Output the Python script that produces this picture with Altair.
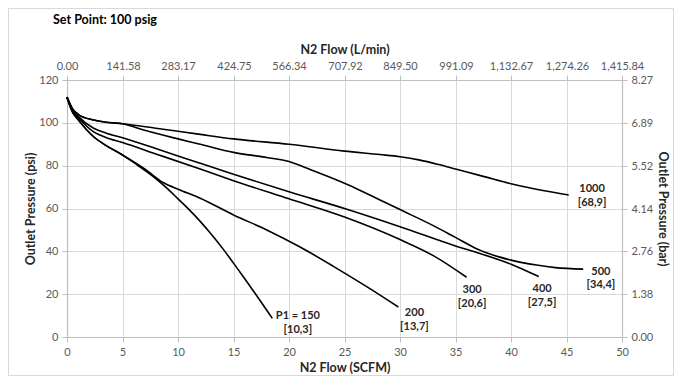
import altair as alt
import pandas as pd

# ---- curve data (N2 flow in SCFM, outlet pressure in psi) ----
series_names = ["P1 = 150", "200", "300", "400", "500", "1000"]

flow_150 = [0, 0.5, 1, 2.4, 3.5, 5, 6, 8, 9, 10, 11, 12, 13, 14, 15, 16, 17, 18.5]
psi_150 = [112, 105, 101.5, 93.5, 89.5, 85, 81.5, 74, 69.5, 64.5, 59.5, 54, 48, 41.5,
           34.5, 27.3, 20, 8.7]

flow_200 = [0, 0.5, 1, 2.4, 3.5, 5, 7, 8.7, 10, 12, 15, 18, 21, 24, 27, 29.85]
psi_200 = [112, 105, 101.5, 93.5, 89.5, 85, 78.5, 72, 69, 64.8, 57, 50, 42, 33, 23.5, 14]

flow_300 = [0, 0.5, 1, 2.4, 3.5, 5, 8, 12, 15, 20, 25, 30, 33, 36]
psi_300 = [112, 105.5, 102.5, 95.8, 93.2, 90.8, 85.5, 78.4, 73, 64.5, 56, 45.5, 38, 27.9]

flow_400 = [0, 0.5, 1, 2.4, 3.5, 5, 8, 12, 15, 20, 25, 30, 35, 37.2, 40, 42.5]
psi_400 = [112, 106, 103, 97.5, 95.3, 93, 88, 81.1, 76, 67.8, 60, 51.5, 42.5, 39, 34, 28.2]

flow_500 = [0, 0.5, 1, 2.4, 3.5, 5, 7, 10, 12, 15, 18, 20, 22, 24.3, 26, 28.2, 30,
            33, 35, 37, 39, 40, 42.3, 44, 46.5]
psi_500 = [112, 106.5, 104, 101.3, 100.3, 99.6, 96.5, 92.5, 90, 86.2, 83.8, 81.9, 78,
           73.3, 69.5, 64, 59.5, 52, 46.5, 41, 37.3, 35.9, 33.6, 32.4, 31.7]

flow_1000 = [0, 0.5, 1, 2.4, 3.5, 5, 8, 12, 15, 20, 25, 28.2, 30, 31.8, 33.5, 35.1,
             37.5, 40.2, 43, 45.2]
psi_1000 = [112, 106.5, 104, 101.3, 100.3, 99.6, 97.5, 94.6, 92.5, 90, 86.8, 85.2,
            84.2, 82.6, 80.5, 78.3, 75, 71.3, 68.3, 66.3]

# ---- curve labels ----
label_text = ["P1 = 150", "[10,3]", "200", "[13,7]", "300", "[20,6]",
              "400", "[27,5]", "500", "[34,4]", "1000", "[68,9]"]
label_flow = [20.8, 20.8, 31.3, 31.3, 36.5, 36.5, 42.8, 42.8, 48.1, 48.1, 47.3, 47.3]
label_psi = [9.8, 3.3, 11.0, 4.5, 21.9, 15.3, 22.4, 16.0, 30.5, 24.3, 68.9, 62.4]

# ---- axis ticks ----
x_ticks = [0, 5, 10, 15, 20, 25, 30, 35, 40, 45, 50]
y_ticks = [0, 20, 40, 60, 80, 100, 120]
SCFM_TO_LPM = 28.3168
PSI_TO_BAR = 0.0689476

rows = []
for name, xs, ys in zip(series_names,
                        [flow_150, flow_200, flow_300, flow_400, flow_500, flow_1000],
                        [psi_150, psi_200, psi_300, psi_400, psi_500, psi_1000]):
    for i, (x, y) in enumerate(zip(xs, ys)):
        rows.append({"series": name, "flow": x, "psi": y, "order": i})
df = pd.DataFrame(rows)
labels = pd.DataFrame({"text": label_text, "flow": label_flow, "psi": label_psi})

W, H = 555, 257
PAD = {"left": 59, "top": 72, "right": 52, "bottom": 39}
GRID = "#d9d9d9"

xscale = alt.Scale(domain=[0, 50], nice=False, zero=False)
yscale = alt.Scale(domain=[0, 120], nice=False)
# rounded copies so that the gridlines land on whole pixels and stay crisp
xscale_r = alt.Scale(domain=[0, 50], nice=False, zero=False, round=True)
yscale_r = alt.Scale(domain=[0, 120], nice=False, round=True)

frame = alt.Chart(pd.DataFrame({"a": [0]})).mark_rect(
    filled=False, stroke="#d9d9d9", strokeWidth=1
).encode(
    x=alt.value(-PAD["left"] + 0.5),
    x2=alt.value(W + PAD["right"] - 0.5),
    y=alt.value(-PAD["top"] + 0.5),
    y2=alt.value(H + PAD["bottom"] - 0.5),
)

# secondary axes (L/min on top, bar on right) also carry the gridlines
secondary = alt.Chart(df).mark_point(opacity=0).encode(
    x=alt.X("flow:Q", scale=xscale_r,
            axis=alt.Axis(orient="top", values=x_ticks, title="N2 Flow (L/min)",
                          grid=True, gridColor=GRID, gridWidth=1, gridOpacity=1,
                          labelFlush=False, labelOverlap=False,
                          labelExpr=f"format(datum.value * {SCFM_TO_LPM}, ',.2f')",
                          titlePadding=4)),
    y=alt.Y("psi:Q", scale=yscale_r,
            axis=alt.Axis(orient="right", values=y_ticks, title="Outlet Pressure (bar)",
                          grid=True, gridColor=GRID, gridWidth=1, gridOpacity=1,
                          labelExpr=f"format(datum.value * {PSI_TO_BAR}, '.2f')",
                          titlePadding=3)),
)

lines = alt.Chart(df).mark_line(
    color="black", strokeWidth=1.6, interpolate="monotone"
).encode(
    x=alt.X("flow:Q", scale=xscale,
            axis=alt.Axis(orient="bottom", values=x_ticks, title="N2 Flow (SCFM)",
                          grid=False, labelFlush=False,
                          labelOverlap=False, titlePadding=4)),
    y=alt.Y("psi:Q", scale=yscale,
            axis=alt.Axis(orient="left", values=y_ticks, title="Outlet Pressure (psi)",
                          grid=False, titlePadding=1)),
    detail="series:N",
    order="order:Q",
)

text = alt.Chart(labels).mark_text(
    font="Lato", fontSize=11, fontWeight="bold", color="#262626"
).encode(
    x=alt.X("flow:Q", scale=xscale, axis=None),
    y=alt.Y("psi:Q", scale=yscale, axis=None),
    text="text:N",
)

chart = alt.layer(secondary, lines, text, frame).resolve_scale(
    x="independent", y="independent"
).properties(
    width=W, height=H,
    padding=PAD,
    autosize=alt.AutoSizeParams(type="none"),
    title=alt.TitleParams("Set Point: 100 psig", anchor="start", frame="group",
                          dx=-14, offset=-18, font="Lato", fontSize=12.5,
                          fontWeight="bold", color="#000000"),
).configure_view(stroke=None).configure_axis(
    labelFont="Lato", labelFontSize=11, labelColor="#595959",
    titleFont="Lato", titleFontSize=12.5, titleFontWeight="bold", titleColor="#262626",
    tickColor="#bfbfbf", tickSize=5, labelPadding=4,
    domainColor="#bfbfbf", domainWidth=1.2,
)

chart.save("out.html", embed_options={"renderer": "svg", "actions": False})
